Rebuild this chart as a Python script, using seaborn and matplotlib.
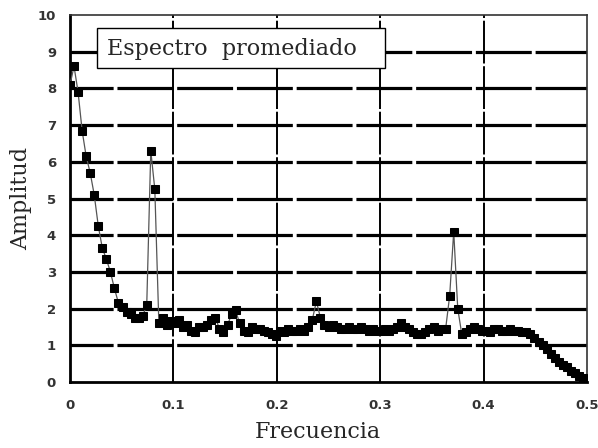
import numpy as np
import pandas as pd
import matplotlib
matplotlib.use("Agg")
import matplotlib.pyplot as plt
from matplotlib.patches import Rectangle
import seaborn as sns

# ---- data ----
freq_step = 1 / 256  # spectral resolution of the averaged spectrum
amplitude = [
    8.1, 8.6, 7.9, 6.85, 6.15, 5.7, 5.1, 4.25, 3.65, 3.35,
    3.0, 2.55, 2.15, 2.05, 1.9, 1.85, 1.75, 1.75, 1.8, 2.1,
    6.3, 5.25, 1.6, 1.75, 1.55, 1.65, 1.6, 1.7, 1.5, 1.55,
    1.4, 1.35, 1.5, 1.5, 1.55, 1.7, 1.75, 1.45, 1.35, 1.55,
    1.85, 1.95, 1.6, 1.4, 1.35, 1.5, 1.45, 1.45, 1.4, 1.35,
    1.3, 1.25, 1.4, 1.35, 1.45, 1.4, 1.4, 1.45, 1.4, 1.5,
    1.7, 2.2, 1.75, 1.55, 1.5, 1.55, 1.5, 1.45, 1.45, 1.5,
    1.45, 1.45, 1.5, 1.45, 1.4, 1.45, 1.4, 1.4, 1.45, 1.4,
    1.45, 1.5, 1.6, 1.5, 1.45, 1.35, 1.3, 1.3, 1.35, 1.45,
    1.5, 1.4, 1.45, 1.45, 2.35, 4.1, 2.0, 1.3, 1.35, 1.45,
    1.5, 1.45, 1.4, 1.4, 1.35, 1.45, 1.45, 1.4, 1.4, 1.45,
    1.4, 1.4, 1.35, 1.35, 1.3, 1.2, 1.1, 1.0, 0.9, 0.75,
    0.65, 0.55, 0.45, 0.4, 0.3, 0.25, 0.15, 0.1, 0.05,
]
frequency = [i * freq_step for i in range(len(amplitude))]

x_ticks = [0, 0.1, 0.2, 0.3, 0.4, 0.5]
x_tick_labels = ["0", "0.1", "0.2", "0.3", "0.4", "0.5"]
y_ticks = list(range(0, 11))
title_text = "Espectro  promediado"
x_label = "Frecuencia"
y_label = "Amplitud"

df = pd.DataFrame({"Frecuencia": frequency, "Amplitud": amplitude})

# ---- figure ----
sns.set_style("white")
W, H = 598, 448
fig = plt.figure(figsize=(W / 100, H / 100), dpi=100)
L, R, T, B = 70, 587, 15, 382
ax = fig.add_axes([L / W, 1 - B / H, (R - L) / W, (B - T) / H])

# gridlines
for yv in y_ticks[1:-1]:
    ax.axhline(yv, color="black", linewidth=2.3, zorder=1,
               linestyle=(4.0, (17.5, 1.2)))
for xv in x_ticks[1:-1]:
    ax.axvline(xv, color="black", linewidth=1.4, zorder=1,
               linestyle=(0, (22, 1.4)))

sns.lineplot(data=df, x="Frecuencia", y="Amplitud", ax=ax, color="#555555",
             linewidth=0.9, marker="s", markersize=5.8,
             markerfacecolor="black", markeredgecolor="black", zorder=3)

ax.set_xlim(0, 0.5)
ax.set_ylim(0, 10)
ax.set_xticks(x_ticks)
ax.set_xticklabels(x_tick_labels)
ax.set_yticks(y_ticks)

for s in ["left", "bottom"]:
    ax.spines[s].set_linewidth(2.0)
    ax.spines[s].set_color("black")
for s in ["top", "right"]:
    ax.spines[s].set_linewidth(1.2)
    ax.spines[s].set_color("#333333")

ax.tick_params(axis="both", direction="out", length=7.5, width=1.8,
               color="black", labelsize=9.5, labelcolor="#333333")
ax.tick_params(axis="y", pad=2.5)
ax.tick_params(axis="x", pad=5)
for lab in ax.get_xticklabels() + ax.get_yticklabels():
    lab.set_fontweight("bold")
    lab.set_family("DejaVu Sans")

ax.set_xlabel(x_label, family="DejaVu Serif", fontsize=16, labelpad=1)
ax.xaxis.set_label_coords(0.48, -0.105)
ax.set_ylabel(y_label, family="DejaVu Serif", fontsize=16, labelpad=4)

# title box
bx0, bx1, by0, by1 = 97, 385, 28, 68
ax.add_patch(Rectangle(((bx0 - L) / (R - L), 1 - (by1 - T) / (B - T)),
                       (bx1 - bx0) / (R - L), (by1 - by0) / (B - T),
                       transform=ax.transAxes, facecolor="white",
                       edgecolor="black", linewidth=1.0, zorder=5))
ax.text((107 - L) / (R - L), 1 - (49 - T) / (B - T), title_text,
        transform=ax.transAxes, family="DejaVu Serif", fontsize=16,
        ha="left", va="center", zorder=6)

fig.savefig("out.png", dpi=100)
